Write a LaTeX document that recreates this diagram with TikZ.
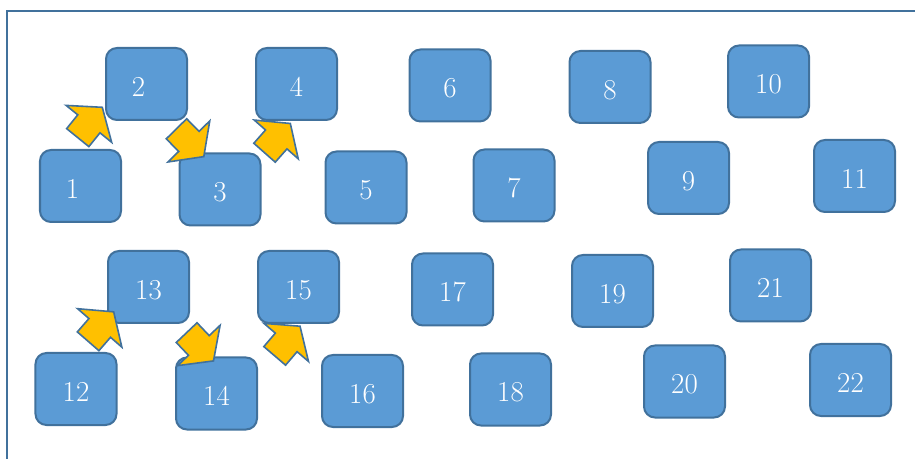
\documentclass[tikz,border=0pt]{standalone}
\usetikzlibrary{shapes.arrows}
\definecolor{tilefill}{HTML}{5B9BD5}
\definecolor{tileedge}{HTML}{41719C}
\definecolor{arrowfill}{HTML}{FFC000}

\begin{document}
\begin{tikzpicture}[x=1bp,y=1bp,
  tile/.style={draw=tileedge,fill=tilefill,line width=2bp,rounded corners=11bp,
    minimum width=81bp,minimum height=72bp,inner sep=0pt,text=white,
    font=\fontsize{29}{29}\selectfont},
  blockarrow/.style={single arrow,draw=tileedge,fill=arrowfill,line width=1.6bp,
    minimum height=39bp,minimum width=57bp,single arrow head extend=15bp,
    single arrow tip angle=108,inner xsep=0pt,inner ysep=13.5bp}]
  \useasboundingbox (0,0) rectangle (915,-459);

  % Frame, cut off at the right and bottom.
  \draw[tileedge,line width=1.5bp] (7,-459) -- (7,-11) -- (915,-11);

  % Numbered tiles (last field: sideways shift of the number).
  \foreach \n/\x/\y/\dx in {1/80.5/186/-8,2/146.5/84/-8,3/220/189.5/0,
      4/296.5/84/0,5/366/187.5/0,6/450/85.5/0,7/514/185.5/0,8/610/87/0,
      9/688.5/178/0,10/768.5/81.5/0,11/854.5/176/0,
      12/76/389/0,13/148.5/287/0,14/216.5/393.5/0,15/298.5/287/0,
      16/362.5/391/0,17/452.5/289.5/0,18/510.5/389.5/0,19/612.5/291/0,
      20/684.5/381.5/0,21/770.5/285.5/0,22/850.5/380/0}{
    \node[tile] (b\n) at (\x,-\y)
      {\hspace*{\dx bp}\raisebox{-2.5bp}[\height][0pt]{\n}\hspace*{-\dx bp}};
  }

  % Block arrows between the first tiles of each band.
  \node[blockarrow,rotate=51] (a1) at (86.75,-126.5) {};
  \node[blockarrow,rotate=-45.5] (a2) at (186.5,-139) {};
  \node[blockarrow,rotate=48.6] (a3) at (274,-142) {};
  \node[blockarrow,rotate=49] (a4) at (97.5,-330.5) {};
  \node[blockarrow,rotate=-46.5] (a5) at (196.5,-343) {};
  \node[blockarrow,rotate=49.5] (a6) at (284,-345) {};
\end{tikzpicture}
\end{document}
